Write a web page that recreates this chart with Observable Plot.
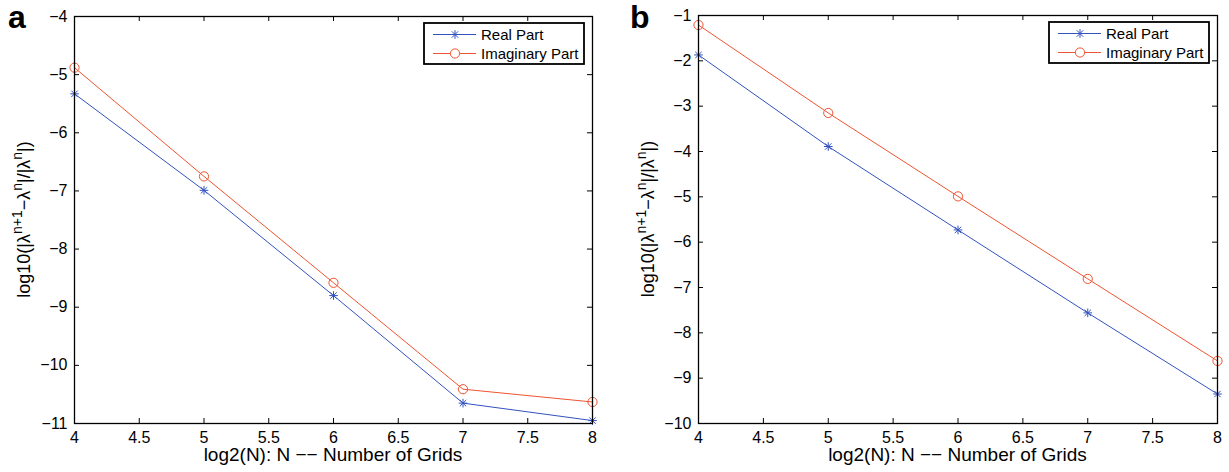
<!DOCTYPE html>
<html><head><meta charset="utf-8">
<script src="https://cdn.jsdelivr.net/npm/d3@7"></script>
<script src="https://cdn.jsdelivr.net/npm/@observablehq/plot@0.6"></script>
<style>
body{margin:0;background:#fff;}
#wrap{display:flex;width:1229px;height:472px;overflow:hidden;}
#wrap svg{flex:none;}
</style></head><body><div id="wrap"></div>
<script>
const gridLog2 = [4, 5, 6, 7, 8];
const realA = [-5.33, -6.99, -8.80, -10.65, -10.95];
const imagA = [-4.88, -6.75, -8.58, -10.41, -10.63];
const realB = [-1.87, -3.89, -5.73, -7.56, -9.35];
const imagB = [-1.21, -3.15, -4.99, -6.81, -8.62];
const xTicks = [4, 4.5, 5, 5.5, 6, 6.5, 7, 7.5, 8];
const yTicksA = [-4, -5, -6, -7, -8, -9, -10, -11];
const yTicksB = [-1, -2, -3, -4, -5, -6, -7, -8, -9, -10];
const seriesNames = ["Real Part", "Imaginary Part"];
const seriesColors = ["#3352bd", "#ef5431"];
const panelLetters = ["a", "b"];
const xLabel = "log2(N): N \u2212\u2212 Number of Grids";
const yLabelParts = [["log10(|\u03bb", false], ["n+1", true], ["\u2212\u03bb", false], ["n", true], ["|/|\u03bb", false], ["n", true], ["|)", false]];

const FONT = "'Liberation Sans', Arial, Helvetica, sans-serif";
const H = 472;
const fmt = d => d < 0 ? "\u2212" + Math.abs(d) : String(d);

function panel({real, imag, yDomain, yTicks, width, ml, mr, mt, mb, letter, letterX}) {
  const rows = gridLog2.flatMap((x, i) => [
    {x, y: real[i], s: seriesNames[0]},
    {x, y: imag[i], s: seriesNames[1]}
  ]);
  const realRows = rows.filter(r => r.s === seriesNames[0]);
  const imagRows = rows.filter(r => r.s === seriesNames[1]);
  const plotW = width - ml - mr, plotH = H - mt - mb;
  const tl = 5;
  const svg = Plot.plot({
    width, height: H,
    marginLeft: ml, marginRight: mr, marginTop: mt, marginBottom: mb,
    style: {fontFamily: FONT, fontSize: "16px", color: "black", background: "white", overflow: "visible"},
    x: {domain: [4, 8]},
    y: {domain: yDomain},
    color: {domain: seriesNames, range: seriesColors},
    marks: [
      Plot.axisX({ticks: xTicks, tickSize: 0, tickPadding: 8, tickFormat: fmt, label: null, fontSize: 16}),
      Plot.axisY({ticks: yTicks, tickSize: 0, tickPadding: 7, tickFormat: fmt, label: null, fontSize: 16}),
      Plot.tickX(xTicks, {x: d => d, insetTop: plotH - tl, stroke: "black"}),
      Plot.tickX(xTicks, {x: d => d, insetBottom: plotH - tl, stroke: "black"}),
      Plot.tickY(yTicks, {y: d => d, insetRight: plotW - tl, stroke: "black"}),
      Plot.tickY(yTicks, {y: d => d, insetLeft: plotW - tl, stroke: "black"}),
      Plot.line(rows, {x: "x", y: "y", z: "s", stroke: "s", strokeWidth: 1}),
      Plot.dot(imagRows, {x: "x", y: "y", symbol: "circle", r: 4.6, stroke: "s", fill: "none", strokeWidth: 1}),
      Plot.dot(realRows, {x: "x", y: "y", symbol: "plus", r: 2.9, stroke: "s", strokeWidth: 1}),
      Plot.dot(realRows, {x: "x", y: "y", symbol: "times", r: 3.0, stroke: "s", strokeWidth: 1}),
      Plot.frame({stroke: "black", strokeWidth: 1.3})
    ]
  });
  const s = d3.select(svg);
  // legend
  const lw = 160, lh = 41;
  const lx = width - mr - 8 - lw, ly = mt + 7;
  const g = s.append("g").attr("text-anchor", "start");
  g.append("rect").attr("x", lx).attr("y", ly).attr("width", lw).attr("height", lh)
    .attr("fill", "white").attr("stroke", "black").attr("stroke-width", 1.8);
  seriesNames.forEach((name, i) => {
    const yy = ly + 11.5 + i * 19;
    const c = seriesColors[i];
    g.append("line").attr("x1", lx + 9).attr("x2", lx + 52).attr("y1", yy).attr("y2", yy)
      .attr("stroke", c).attr("stroke-width", 1);
    if (i === 0) {
      g.append("path").attr("d", d3.symbol(d3.symbolPlus, Math.PI * 2.9 * 2.9)())
        .attr("transform", `translate(${lx + 31},${yy})`).attr("stroke", c).attr("fill", "none");
      g.append("path").attr("d", d3.symbol(d3.symbolTimes, Math.PI * 3.0 * 3.0)())
        .attr("transform", `translate(${lx + 31},${yy})`).attr("stroke", c).attr("fill", "none");
    } else {
      g.append("circle").attr("cx", lx + 31).attr("cy", yy).attr("r", 4.6)
        .attr("stroke", c).attr("fill", "white");
    }
    g.append("text").attr("x", lx + 57).attr("y", yy + 5.3).attr("font-size", 15)
      .attr("text-anchor", "start")
      .attr("font-family", FONT).attr("fill", "black").text(name);
  });
  // x label
  s.append("text").attr("x", ml + plotW / 2).attr("y", 461).attr("text-anchor", "middle")
    .attr("font-size", 19).attr("font-family", FONT).attr("fill", "black").text(xLabel);
  // y label
  const yt = s.append("text")
    .attr("transform", `translate(${ml - 44},${mt + plotH / 2}) rotate(-90)`)
    .attr("text-anchor", "middle").attr("font-size", 18).attr("font-family", FONT).attr("fill", "black");
  let raised = false;
  yLabelParts.forEach(([txt, sup]) => {
    const ts = yt.append("tspan").text(txt);
    if (sup) { ts.attr("font-size", 14); if (!raised) ts.attr("dy", -8); raised = true; }
    else if (raised) { ts.attr("dy", 8); raised = false; }
  });
  // panel letter
  s.append("text").attr("x", letterX).attr("y", 28).attr("font-size", 32).attr("font-weight", "bold")
    .attr("text-anchor", "start")
    .attr("font-family", FONT).attr("fill", "black").text(letter);
  return svg;
}

const wrap = document.getElementById("wrap");
wrap.appendChild(panel({real: realA, imag: imagA, yDomain: [-11, -4], yTicks: yTicksA,
  width: 614, ml: 74, mr: 22, mt: 16, mb: 49, letter: panelLetters[0], letterX: 8}));
wrap.appendChild(panel({real: realB, imag: imagB, yDomain: [-10, -1], yTicks: yTicksB,
  width: 615, ml: 84, mr: 12, mt: 15, mb: 49, letter: panelLetters[1], letterX: 16}));
</script></body></html>
